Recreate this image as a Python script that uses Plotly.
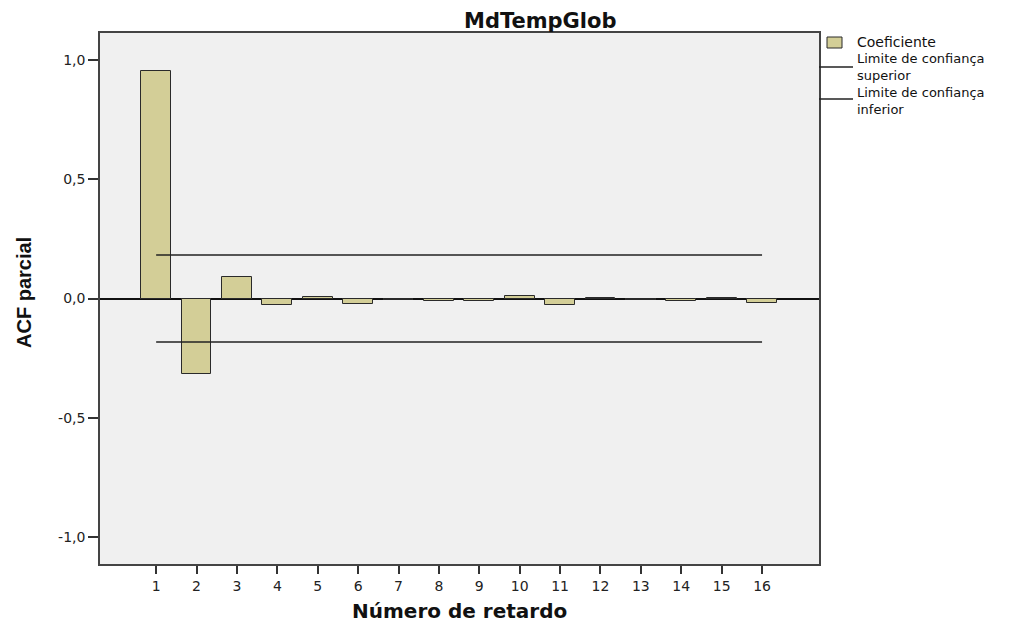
import plotly.graph_objects as go

# ---- data ----
lags = list(range(1, 17))
pacf = [0.954, -0.315, 0.092, -0.029, 0.005, -0.024, -0.008, -0.011,
        -0.011, 0.012, -0.026, 0.003, -0.005, -0.010, 0.003, -0.018]
limit_lags = [1, 16]
upper_limit = [0.182, 0.182]
lower_limit = [-0.182, -0.182]
y_tick_vals = [-1.0, -0.5, 0.0, 0.5, 1.0]
y_tick_text = ["-1,0", "-0,5", "0,0", "0,5", "1,0"]
x_tick_text = [str(v) for v in lags]

BAR_COLOR = "#D3CE97"
FONT = "DejaVu Sans"

fig = go.Figure()
fig.add_trace(go.Bar(
    x=lags, y=pacf, width=0.74,
    marker=dict(color=BAR_COLOR, line=dict(color="#2a2a2a", width=1)),
    name="Coeficiente", showlegend=False,
))
fig.add_trace(go.Scatter(
    x=limit_lags, y=upper_limit, mode="lines",
    line=dict(color="#222", width=1.5), showlegend=False,
))
fig.add_trace(go.Scatter(
    x=limit_lags, y=lower_limit, mode="lines",
    line=dict(color="#222", width=1.5), showlegend=False,
))

# page body has an 8px margin, so the figure is sized/offset to compensate
fig.update_layout(
    width=1018, height=618,
    margin=dict(l=92, r=207, t=25, b=62),
    paper_bgcolor="white",
    plot_bgcolor="#F0F0F0",
    font=dict(family=FONT, size=14, color="#222"),
    bargap=0,
)
fig.update_xaxes(
    range=[-0.39, 17.41],
    tickvals=lags, ticktext=x_tick_text,
    ticks="outside", ticklen=8, tickwidth=1.5, tickcolor="#333",
    tickfont=dict(family=FONT, size=14, color="#222"),
    showgrid=False, zeroline=False,
    showline=True, mirror=True, linecolor="#444", linewidth=1.5,
)
fig.update_yaxes(
    range=[-1.113, 1.113],
    tickvals=y_tick_vals, ticktext=y_tick_text,
    ticks="outside", ticklen=10, tickwidth=1.5, tickcolor="#333",
    tickfont=dict(family=FONT, size=14, color="#222"),
    showgrid=False,
    zeroline=True, zerolinecolor="#111", zerolinewidth=1.5,
    showline=True, mirror=True, linecolor="#444", linewidth=1.5,
)

def py(px):
    """convert a pixel row of the reference to paper y (plot top 33, height 531)"""
    return 1 - (px - 33) / 531.0

def px_(px):
    """convert a pixel column of the reference to paper x (plot left 100, width 719)"""
    return (px - 100) / 719.0

annotations = [
    dict(text="<b>MdTempGlob</b>", x=px_(540), y=py(21), xref="paper", yref="paper",
         xanchor="center", yanchor="middle", showarrow=False,
         font=dict(family=FONT, size=21, color="#111")),
    dict(text="<b>Número de retardo</b>", x=px_(459), y=py(611), xref="paper", yref="paper",
         xanchor="center", yanchor="middle", showarrow=False,
         font=dict(family=FONT, size=20, color="#111")),
    dict(text="<b>ACF parcial</b>", x=px_(24), y=py(293), xref="paper", yref="paper",
         xanchor="center", yanchor="middle", showarrow=False, textangle=-90,
         font=dict(family="Liberation Sans", size=20, color="#111")),
]
legend_texts = [
    ("Coeficiente", 42, 14),
    ("Limite de confiança<br>superior", 67, 13),
    ("Limite de confiança<br>inferior", 101, 13),
]
for txt, yy, fs in legend_texts:
    annotations.append(dict(
        text=txt, x=px_(856), y=py(yy), xref="paper", yref="paper",
        xanchor="left", yanchor="middle", showarrow=False, borderpad=0,
        align="left", font=dict(family=FONT, size=fs, color="#111")))
fig.update_layout(annotations=annotations)

shapes = [
    dict(type="rect", xref="paper", yref="paper", x0=px_(827), x1=px_(842),
         y0=py(48), y1=py(37), fillcolor=BAR_COLOR,
         line=dict(color="#2a2a2a", width=1)),
    dict(type="line", xref="paper", yref="paper", x0=px_(819), x1=px_(853),
         y0=py(67), y1=py(67), line=dict(color="#222", width=1.5)),
    dict(type="line", xref="paper", yref="paper", x0=px_(819), x1=px_(853),
         y0=py(99), y1=py(99), line=dict(color="#222", width=1.5)),
]
fig.update_layout(shapes=shapes)

fig.write_html("out.html")
